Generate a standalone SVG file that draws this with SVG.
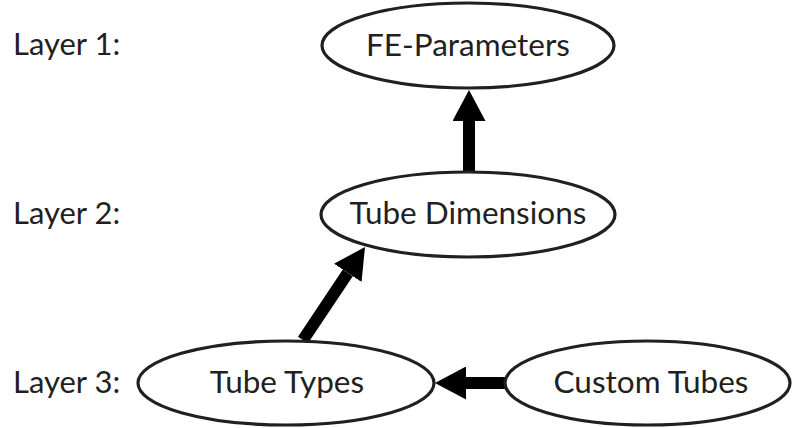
<svg xmlns="http://www.w3.org/2000/svg" width="792" height="428" viewBox="0 0 792 428">
  <style>
    .node { fill: #ffffff; stroke: #231f20; stroke-width: 3.2; }
    .label { font-family: Lato, "Open Sans", sans-serif; font-size: 31.5px; fill: #231f20; text-anchor: middle; }
    .layer { font-family: Lato, "Open Sans", sans-serif; font-size: 31px; fill: #231f20; }
    .edge { stroke: #000000; stroke-width: 12; fill: none; marker-end: url(#head); }
  </style>
  <defs>
    <marker id="head" markerUnits="userSpaceOnUse" viewBox="0 0 31 33" markerWidth="31" markerHeight="33" refX="0" refY="16.5" orient="auto">
      <path d="M0,0 L31,16.5 L0,33 Z" fill="#000000"/>
    </marker>
  </defs>
  <rect width="792" height="428" fill="#ffffff"/>

  <!-- layer captions -->
  <g id="layer-labels">
    <text class="layer" x="13" y="55">Layer 1:</text>
    <text class="layer" x="13" y="224">Layer 2:</text>
    <text class="layer" x="13" y="393">Layer 3:</text>
  </g>

  <!-- dependency arrows -->
  <g id="connectors">
    <line class="edge" x1="469" y1="172" x2="469" y2="121"/>
    <line class="edge" x1="303" y1="340" x2="347.8" y2="272.8"/>
    <line class="edge" x1="505" y1="383" x2="466" y2="383"/>
  </g>

  <g id="fe-parameters">
    <ellipse class="node" cx="468" cy="45.5" rx="146" ry="42.5"/>
    <text class="label" x="468" y="56">FE-Parameters</text>
  </g>
  <g id="tube-dimensions">
    <ellipse class="node" cx="468" cy="214.5" rx="147" ry="42.5"/>
    <text class="label" x="468" y="224">Tube Dimensions</text>
  </g>
  <g id="tube-types">
    <ellipse class="node" cx="286" cy="383" rx="148" ry="42"/>
    <text class="label" x="287" y="393">Tube Types</text>
  </g>
  <g id="custom-tubes">
    <ellipse class="node" cx="647.5" cy="383" rx="142.5" ry="42"/>
    <text class="label" x="651" y="393">Custom Tubes</text>
  </g>
</svg>
